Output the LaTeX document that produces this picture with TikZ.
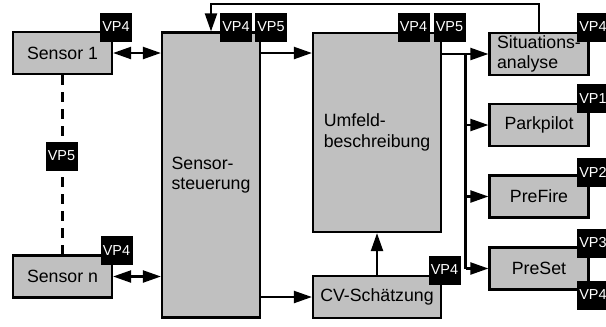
\documentclass[tikz,border=0pt]{standalone}
\usepackage{fontspec}
\setmainfont{Liberation Sans}
\usetikzlibrary{arrows.meta}
\definecolor{boxgray}{RGB}{192,192,192}
\begin{document}
\begin{tikzpicture}[
  x=1bp, y=-1bp,
  block/.style={draw, fill=boxgray, line width=2.2bp, inner sep=0pt, font=\fontsize{17.8}{20.7}\selectfont, align=left},
  vp/.style={fill=black, text=white, minimum width=32bp, minimum height=29bp, inner sep=0pt, font=\fontsize{14.5}{16}\selectfont},
  link/.style={line width=2.2bp},
  >={Triangle[length=18bp, width=12bp]}
]
  \useasboundingbox (0,0) rectangle (606,326);
  % Sensors
  \node[block, minimum width=99bp, minimum height=42bp] (s1) at (62.5, 53) {Sensor 1};
  \node[block, minimum width=99bp, minimum height=42bp] (sn) at (62.5, 276.5) {Sensor n};
  % Processing
  \node[block, minimum width=98bp, minimum height=285bp] (ctl) at (211, 175) {Sensor-\\steuerung};
  \node[block, minimum width=128bp, minimum height=199bp] (env) at (377, 132.5) {Umfeld-\\beschreibung};
  \node[block, minimum width=128bp, minimum height=42bp] (cv) at (377, 297) {CV-Schätzung};
  % Applications
  \node[block, minimum width=99bp, minimum height=42bp] (sit) at (539, 54) {Situations-\\analyse};
  \node[block, minimum width=99bp, minimum height=42bp] (park) at (539, 125) {Parkpilot};
  \node[block, minimum width=99bp, minimum height=42bp] (fire) at (539, 196.5) {PreFire};
  \node[block, minimum width=99bp, minimum height=42bp] (set) at (539, 268.5) {PreSet};
  \coordinate (bus) at (465.5, 54);

  % Links
  \draw[dash pattern=on 10bp off 7bp, line width=3.5bp] (s1.south) -- (sn.north);
  \draw[link, <->] (s1.east) -- (s1.east -| ctl.west);
  \draw[link, <->] (sn.east) -- (sn.east -| ctl.west);
  \draw[link, ->] (ctl.east |- s1) -- (env.west |- s1);
  \draw[link, ->] (ctl.east |- cv) -- (cv.west);
  \draw[link, ->] (cv.north) -- (env.south);
  \draw[link, ->] (env.east |- sit) -- (sit.west);
  \draw[link] (bus) -- (bus |- set);
  \foreach \app in {park, fire, set} {
    \draw[link, ->] (bus |- \app) -- (\app.west);
  }
  % Feedback
  \draw[link, ->] (sit.north) -- ++(0,-28) -| (ctl.north);

  % Tags
  \node[vp] (t1) at (116, 27) {VP4};
  \node[vp] (t2) at (116.5, 250.5) {VP4};
  \node[vp] (t3) at (61.5, 156) {VP5};
  \node[vp] (t4) at (236, 27) {VP4};
  \node[vp] (t5) at (271, 27) {VP5};
  \node[vp] (t6) at (413.5, 27) {VP4};
  \node[vp] (t7) at (449.5, 27) {VP5};
  \node[vp] (t8) at (444.5, 270) {VP4};
  \node[vp] (t9) at (593, 27) {VP4};
  \node[vp] (t10) at (593, 98.5) {VP1};
  \node[vp] (t11) at (593, 172.5) {VP2};
  \node[vp] (t12) at (593, 243) {VP3};
  \node[vp] (t13) at (593, 295) {VP4};
\end{tikzpicture}
\end{document}
